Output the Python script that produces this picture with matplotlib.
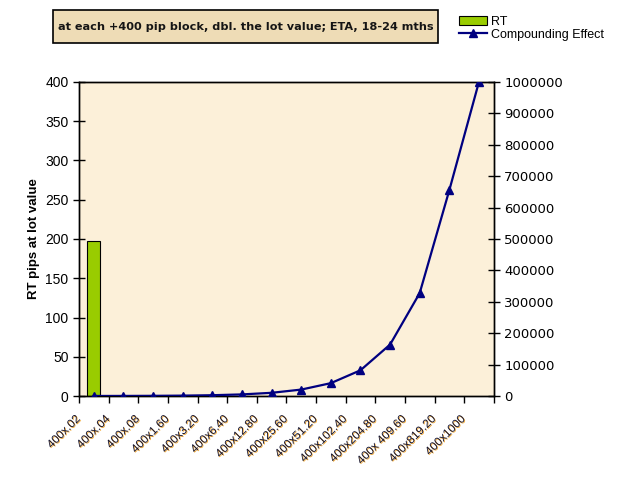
import matplotlib.pyplot as plt
import matplotlib.patheffects as pe
from matplotlib.patches import Rectangle
from matplotlib.transforms import ScaledTranslation

# chart data
labels = ['400x.02', '400x.04', '400x.08', '400x1.60', '400x3.20', '400x6.40',
          '400x12.80', '400x25.60', '400x51.20', '400x102.40', '400x204.80',
          '400x 409.60', '400x819.20', '400x1000']
rt_values = [197]  # only the first block has a bar
compound = [160, 320, 640, 1280, 2560, 5120, 10240, 20480, 40960, 81920,
            163840, 327680, 655360, 1000000]

fig = plt.figure(figsize=(6.25, 4.78), dpi=100)
ax = fig.add_axes([0.1264, 0.1715, 0.6636, 0.657])
ax.set_facecolor('#fcf0d9')

x = list(range(len(labels)))
bars = ax.bar(x[:len(rt_values)], rt_values, width=0.45, color='#99cc00',
              edgecolor='black', linewidth=0.8, label='RT', zorder=2)
ax.set_xlim(-0.5, len(labels) - 0.5)
ax.set_ylim(0, 400)
ax.set_yticks(range(0, 401, 50))
ax.set_ylabel('RT pips at lot value', fontsize=9.5, fontweight='bold',
              family='Liberation Sans', labelpad=4)
for t in ax.get_yticklabels():
    t.set_family('Liberation Sans')
    t.set_fontsize(10)

# category separators as tick marks
ax.set_xticks([i - 0.5 for i in range(len(labels) + 1)], minor=False)
ax.set_xticklabels([])
ax.tick_params(axis='x', direction='out', length=5, width=1)
ax.tick_params(axis='y', direction='inout', length=8, width=1)
offset = ScaledTranslation(-11 / 100, -17 / 100, fig.dpi_scale_trans)
for i, lab in enumerate(labels):
    ax.text(i, 0, lab, rotation=45, ha='right', va='top', fontsize=8.4,
            family='Liberation Sans', color='#151530',
            transform=ax.get_xaxis_transform() + offset,
            path_effects=[pe.withSimplePatchShadow(offset=(0.6, -0.6),
                                                   shadow_rgbFace='#f0a020',
                                                   alpha=0.9)])

ax2 = ax.twinx()
line, = ax2.plot(x, compound, color='#000080', linewidth=1.6, marker='^',
                 markersize=5.5, label='Compounding Effect', zorder=3)
ax2.set_ylim(0, 1000000)
ax2.set_yticks(range(0, 1000001, 100000))
ax2.set_yticklabels([str(v) for v in range(0, 1000001, 100000)],
                    family='DejaVu Sans', fontsize=9.5)
ax2.tick_params(axis='y', direction='inout', length=8, width=1)

for a in (ax, ax2):
    for s in a.spines.values():
        s.set_color('black')
        s.set_linewidth(1)

# title box
fig.patches.append(Rectangle((0.0848, 0.910), 0.616, 0.069,
                             transform=fig.transFigure, facecolor='#eedcb6',
                             edgecolor='black', linewidth=1.2))
fig.text(0.3925, 0.9445,
         'at each +400 pip block, dbl. the lot value; ETA, 18-24 mths',
         ha='center', va='center', fontsize=8.1, fontweight='bold',
         family='DejaVu Sans', color='#151515')

fig.legend([bars, line], ['RT', 'Compounding Effect'], loc='upper left',
           bbox_to_anchor=(0.727, 0.977), frameon=False,
           prop={'family': 'Liberation Sans', 'size': 9},
           handlelength=2.2, handletextpad=0.3, labelspacing=0.05,
           borderaxespad=0)

fig.savefig('out.png', dpi=100)
